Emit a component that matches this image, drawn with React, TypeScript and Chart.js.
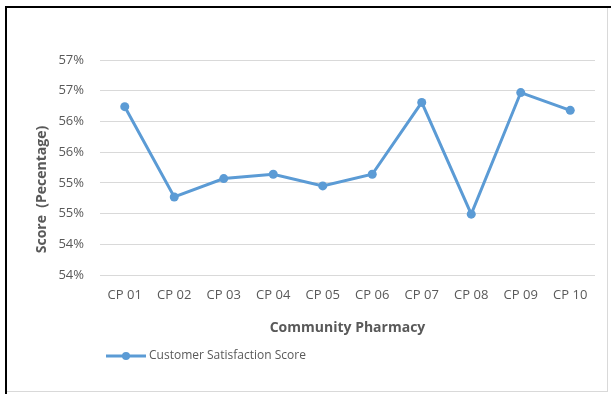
import React, { useEffect, useRef } from "react";
import { Chart, registerables } from "chart.js";

Chart.register(...registerables);

// Pharmacies along the x axis
const pharmacies = ["CP 01", "CP 02", "CP 03", "CP 04", "CP 05", "CP 06", "CP 07", "CP 08", "CP 09", "CP 10"];
// Customer satisfaction score per pharmacy (percent)
const satisfactionScores = [56.24, 54.77, 55.07, 55.14, 54.95, 55.14, 56.31, 54.49, 56.47, 56.18];

// Value axis range (labels are shown rounded to whole percent)
const yMin = 53.5;
const yMax = 57;
const yStep = 0.5;

const seriesLabel = "Customer Satisfaction Score";
const xTitle = "Community Pharmacy";
const yTitle = "Score  (Pecentage)";

const BLUE = "#5B9BD5";
const TEXT = "#595959";
const GRID = "#d9d9d9";
const FONT = "'Open Sans', sans-serif";

// Small line-with-marker icon used as the legend symbol
function makeLegendIcon(): HTMLCanvasElement {
  const c = document.createElement("canvas");
  c.width = 40;
  c.height = 10;
  const g = c.getContext("2d")!;
  g.strokeStyle = BLUE;
  g.lineWidth = 3;
  g.beginPath();
  g.moveTo(0, 5);
  g.lineTo(40, 5);
  g.stroke();
  g.fillStyle = BLUE;
  g.beginPath();
  g.arc(20, 5, 4, 0, Math.PI * 2);
  g.fill();
  return c;
}

// Rotated value-axis title, drawn a little below the plot's vertical centre
const yTitlePlugin = {
  id: "yTitleLabel",
  afterDraw(chart: any) {
    const { ctx, chartArea } = chart;
    ctx.save();
    ctx.translate(35, (chartArea.top + chartArea.bottom) / 2 + 22);
    ctx.rotate(-Math.PI / 2);
    ctx.font = `bold 14px ${FONT}`;
    ctx.fillStyle = TEXT;
    ctx.textAlign = "center";
    ctx.textBaseline = "middle";
    ctx.fillText(yTitle, 0, 0);
    ctx.restore();
  },
};

export default function App() {
  const canvasRef = useRef<HTMLCanvasElement | null>(null);

  useEffect(() => {
    if (!canvasRef.current) return;
    const legendIcon = makeLegendIcon();
    const chart = new Chart(canvasRef.current, {
      type: "line",
      data: {
        labels: pharmacies,
        datasets: [
          {
            label: seriesLabel,
            data: satisfactionScores,
            borderColor: BLUE,
            backgroundColor: BLUE,
            borderWidth: 3,
            pointRadius: 4.5,
            pointBackgroundColor: BLUE,
            pointBorderColor: BLUE,
            pointBorderWidth: 0,
            tension: 0,
          },
        ],
      },
      options: {
        responsive: false,
        animation: false,
        layout: { padding: { left: 0, right: 12, top: 52, bottom: 19 } },
        plugins: {
          tooltip: { enabled: false },
          legend: {
            position: "bottom",
            align: "start",
            fullSize: false,
            labels: {
              usePointStyle: true,
              pointStyleWidth: 34,
              padding: 9,
              color: TEXT,
              font: { family: FONT, size: 12 },
              generateLabels: () => [
                {
                  text: seriesLabel,
                  pointStyle: legendIcon as any,
                  fillStyle: BLUE,
                  strokeStyle: BLUE,
                  lineWidth: 0,
                  hidden: false,
                  datasetIndex: 0,
                  fontColor: TEXT,
                },
              ],
            },
          },
        },
        scales: {
          x: {
            offset: true,
            grid: { display: false, drawTicks: false },
            border: { display: false },
            ticks: { color: TEXT, padding: 12, font: { family: FONT, size: 13 } },
            title: {
              display: true,
              text: xTitle,
              color: TEXT,
              padding: { top: 0, bottom: 5 },
              font: { family: FONT, size: 14, weight: "bold" },
            },
            afterFit: (scale: any) => {
              scale.height = 66;
            },
          },
          y: {
            min: yMin,
            max: yMax,
            grid: { color: GRID, lineWidth: 1, drawTicks: false },
            border: { display: false },
            ticks: {
              stepSize: yStep,
              color: TEXT,
              padding: 16,
              font: { family: FONT, size: 13 },
              callback: (v: any) => `${Math.round(Number(v))}%`,
            },
            afterFit: (scale: any) => {
              scale.width = 93;
            },
          },
        },
      },
      plugins: [yTitlePlugin],
    });
    return () => chart.destroy();
  }, []);

  return (
    <div style={{ position: "fixed", left: 0, top: 0, width: 611, height: 394, background: "#fff" }}>
      <div
        style={{
          position: "absolute",
          left: 5,
          top: 6,
          right: 0,
          bottom: 0,
          borderLeft: "2px solid #000",
          borderTop: "2px solid #000",
        }}
      />
      <div
        style={{
          position: "absolute",
          left: 7,
          top: 8,
          width: 600,
          height: 383,
          borderRight: `1px solid ${GRID}`,
          borderBottom: `1px solid ${GRID}`,
        }}
      >
        <canvas ref={canvasRef} width={600} height={383} style={{ display: "block" }} />
      </div>
    </div>
  );
}
